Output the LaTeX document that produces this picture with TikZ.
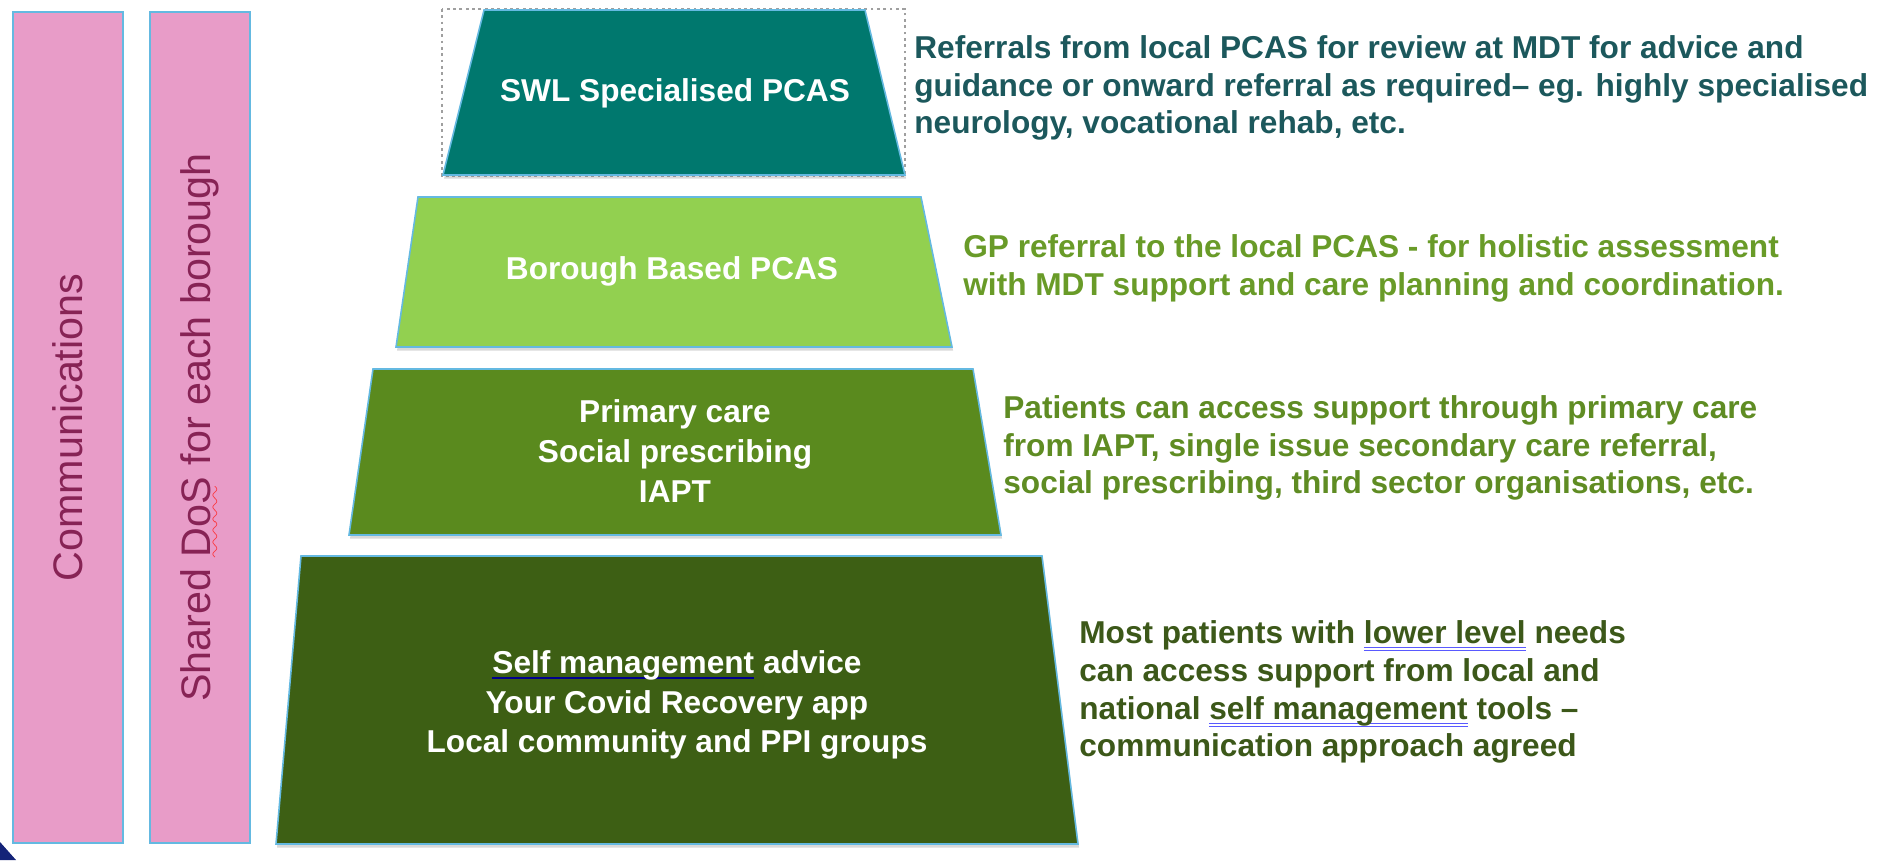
\documentclass[tikz,border=0pt]{standalone}
\usepackage{fontspec}
\setmainfont{Liberation Sans}
\usepackage{xcolor}
\usepackage{tikz}
\usetikzlibrary{shapes,positioning,shadows}
\definecolor{barcolor}{RGB}{232,156,200}
\definecolor{edgecolor}{RGB}{100,185,225}
\definecolor{bartextcolor}{RGB}{135,35,85}
\definecolor{swlcolor}{RGB}{0,120,110}
\definecolor{boroughcolor}{RGB}{146,208,80}
\definecolor{primarycolor}{RGB}{90,138,30}
\definecolor{selfcolor}{RGB}{61,95,20}
\definecolor{swltextcolor}{RGB}{28,88,92}
\definecolor{boroughtextcolor}{RGB}{105,155,40}
\definecolor{primarytextcolor}{RGB}{95,140,35}
\definecolor{selftextcolor}{RGB}{60,88,25}
\definecolor{cornercolor}{RGB}{20,35,120}

% spell check marks
\newsavebox{\markbox}
\font\wavefont=lasy10
\newcommand{\spellwave}[1]{\sbox{\markbox}{#1}\rlap{\color{red!85}\lower5pt\hbox to \wd\markbox{\leaders\hbox{\wavefont\char58}\hfil}}\usebox{\markbox}}
\newcommand{\grammarline}[1]{\sbox{\markbox}{#1}\rlap{\color{blue!65}\rule[-2.6pt]{\wd\markbox}{0.6pt}}\rlap{\color{blue!65}\rule[-4.4pt]{\wd\markbox}{0.6pt}}\usebox{\markbox}}
\newcommand{\boxline}[1]{\sbox{\markbox}{#1}\rlap{\color{blue!55!black}\rule[-3pt]{\wd\markbox}{1pt}}\usebox{\markbox}}

\begin{document}
\begin{tikzpicture}[x=0.02cm, y=-0.02cm,
  bar/.style={draw=edgecolor, line width=1.2pt, fill=barcolor, rotate=90, minimum height=2.2cm, text=bartextcolor, font=\fontsize{23.5}{28}\selectfont},
  tier/.style={draw=edgecolor, line width=0.9pt, drop shadow={shadow xshift=0.6pt, shadow yshift=-2pt, opacity=0.3}},
  tiertext/.style={align=center, text=white, inner sep=0pt, font=\bfseries\fontsize{18}{22.5}\selectfont},
  note/.style={anchor=west, align=left, inner sep=0pt, font=\bfseries\fontsize{18}{21.5}\selectfont}
]
\useasboundingbox (0,0) rectangle (1895,860);

% Side bars
\node[bar, minimum width=16.62cm] (comms) at (68,427.5) {Communications};
\node[bar, minimum width=16.62cm, minimum height=2.0cm] (dos) at (200,427.5) {Shared \spellwave{DoS} for each borough};
\fill[cornercolor] (0,842) -- (16,860) -- (0,860) -- cycle;

% Pyramid tiers
\draw[gray!75, line width=1.6pt, dash pattern=on 1.6pt off 2pt] (442,9) rectangle (905,176);
\path[tier, fill=swlcolor] (484,10) -- (865,10) -- (905,175) -- (443,175) -- cycle;
\path[tier, fill=boroughcolor] (418,197) -- (921,197) -- (952,347) -- (396,347) -- cycle;
\path[tier, fill=primarycolor] (373,369) -- (973,369) -- (1001,535) -- (349,535) -- cycle;
\path[tier, fill=selfcolor] (301,556) -- (1042,556) -- (1078,844) -- (276,844) -- cycle;

\node[tiertext] (swl) at (675,93) {SWL Specialised PCAS};
\node[tiertext] (borough) at (672,271) {Borough Based PCAS};
\node[tiertext] (primary) at (675,451) {Primary care\\Social prescribing\\IAPT};
\node[tiertext] (selfmgmt) at (677,705) {\boxline{Self management} advice\\Your Covid Recovery app\\Local community and PPI groups};

% Descriptions
\node[note, text=swltextcolor] (swlnote) at (914,88) {Referrals from local PCAS for review at MDT for advice and\\guidance or onward referral as required-- eg. highly specialised\\neurology, vocational rehab, etc.};
\node[note, text=boroughtextcolor] (boroughnote) at (963,268) {GP referral to the local PCAS - for holistic assessment\\with MDT support and care planning and coordination.};
\node[note, text=primarytextcolor] (primarynote) at (1003,448) {Patients can access support through primary care\\from IAPT, single issue secondary care referral,\\social prescribing, third sector organisations, etc.};
\node[note, text=selftextcolor] (selfnote) at (1079,692) {Most patients with \grammarline{lower level} needs\\can access support from local and\\national \grammarline{self management} tools --\\communication approach agreed};

\end{tikzpicture}
\end{document}
